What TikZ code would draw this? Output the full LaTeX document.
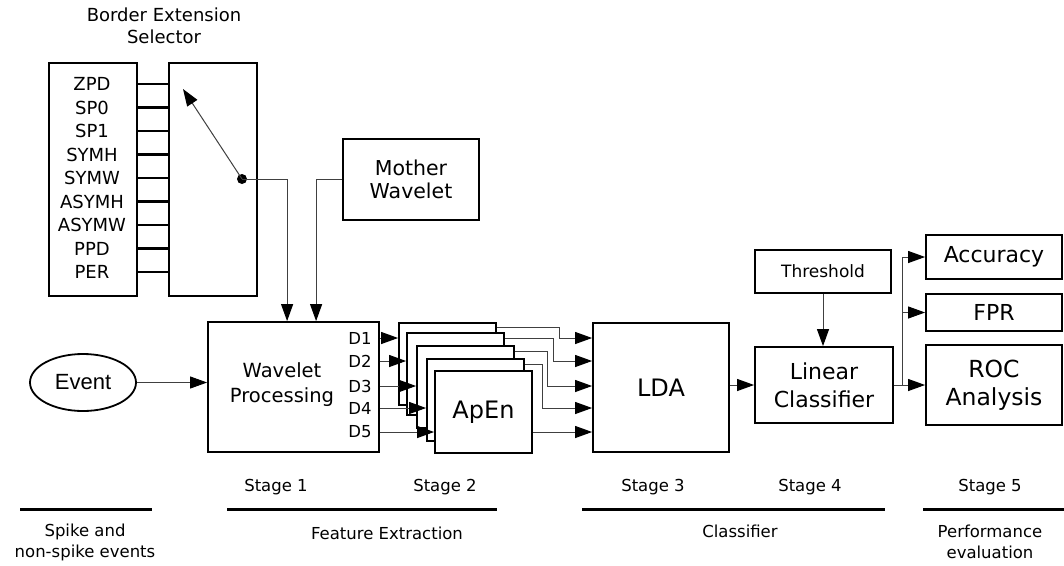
\documentclass[tikz,border=0pt]{standalone}
\usepackage{fontspec}
\setmainfont{DejaVu Sans}
\newfontfamily\evfont{Liberation Sans}
\usetikzlibrary{arrows.meta,shapes.geometric}
\begin{document}
\begin{tikzpicture}[x=1pt,y=-1pt,
  box/.style={draw=black,line width=1.8pt,fill=white,inner sep=0pt,align=center},
  conn/.style={draw=black!75,line width=1pt},
  arr/.style={conn,-{Triangle[length=17pt,width=12pt,color=black]}},
  txt/.style={inner sep=0pt,align=center},
  stageline/.style={draw=black,line width=3pt},
  fa/.style={font=\fontsize{16.5}{21}\selectfont},
  fb/.style={font=\fontsize{18}{22}\selectfont},
  fc/.style={font=\fontsize{22}{28}\selectfont}]
\useasboundingbox (0,0) rectangle (1064,565);

% Border extension selector
\node[txt,fb] (title) at (164,26) {Border Extension\\Selector};
\node[box,minimum width=88pt,minimum height=233pt] (lbox) at (93,179.5) {};
\node[box,minimum width=88pt,minimum height=233pt] (rbox) at (213,179.5) {};
\foreach \t [count=\i] in {ZPD,SP0,SP1,SYMH,SYMW,ASYMH,ASYMW,PPD,PER}{
  \node[txt,fb] (lab\i) at (92,{84+23.5*(\i-1)}) {\t};
  \draw[line width=2.2pt] (lbox.east |- lab\i) -- (rbox.west |- lab\i);
}
\node[circle,fill=black,inner sep=0pt,minimum size=10pt] (dot) at (242,179) {};
\coordinate (ptr) at (183,89);
\draw[arr] (dot.center) -- (ptr);

% Mother wavelet
\node[box,minimum width=136pt,minimum height=81pt,font=\fontsize{20.5}{23}\selectfont] (mw) at (411,179.5) {Mother\\Wavelet};

% Wavelet processing
\node[box,minimum width=171pt,minimum height=130pt] (wave) at (293.5,387) {};
\node[txt,font=\fontsize{19.5}{25}\selectfont] (wavetxt) at (282,384.5) {Wavelet\\Processing};
\node[txt,fa] (d1) at (360,338) {D1};
\node[txt,fa] (d2) at (360,361) {D2};
\node[txt,fa] (d3) at (360,386) {D3};
\node[txt,fa] (d4) at (360,408) {D4};
\node[txt,fa] (d5) at (360,432) {D5};

\draw[arr] (dot.center) -| ([xshift=80pt]wave.north west);
\draw[arr] (mw.west) -| ([xshift=109pt]wave.north west);

% Event
\node[draw,ellipse,line width=1.8pt,minimum width=106pt,minimum height=57pt,inner sep=0pt,
      font=\evfont\fontsize{22}{26}\selectfont] (ev) at (83,382.5) {Event};
\draw[arr] (ev.east) -- (ev.east -| wave.west);

% ApEn stack
\node[box,minimum width=97pt,minimum height=82pt] (ap1) at (447.5,364) {};
\node[box,minimum width=97pt,minimum height=82pt] (ap2) at (455.5,374) {};
\node[box,minimum width=97pt,minimum height=82pt] (ap3) at (465.5,387) {};
\node[box,minimum width=97pt,minimum height=82pt] (ap4) at (475.5,400) {};
\node[box,minimum width=97pt,minimum height=82pt,font=\fontsize{24}{28}\selectfont] (ap5) at (483.5,412) {ApEn};

\draw[arr] (wave.east |- d1) -- (ap1.west |- d1);
\draw[arr] (wave.east |- d2) -- (ap2.west |- d2);
\draw[arr] (wave.east |- d3) -- (ap3.west |- d3);
\draw[arr] (wave.east |- d4) -- (ap4.west |- d4);
\draw[arr] (wave.east |- d5) -- (ap5.west |- d5);

% LDA
\node[box,minimum width=136pt,minimum height=129pt,font=\fontsize{24}{28}\selectfont] (lda) at (661,387.5) {LDA};

\draw[arr] ([yshift=-5pt]ap1.north east) -- ++(63,0) |- (lda.west |- d1);
\draw[arr] ([yshift=-6pt]ap2.north east) -- ++(49,0) |- (lda.west |- d2);
\draw[arr] ([yshift=-6pt]ap3.north east) -- ++(33,0) |- (lda.west |- d3);
\draw[arr] ([yshift=-6pt]ap4.north east) -- ++(18,0) |- (lda.west |- d4);
\draw[arr] (ap5.east |- d5) -- (lda.west |- d5);

% Classifier
\node[box,minimum width=138pt,minimum height=76pt,fc] (lc) at (824,385) {Linear\\Classifier};
\node[box,minimum width=136pt,minimum height=43pt,font=\fontsize{17}{20}\selectfont] (thr) at (823,271.5) {Threshold};
\draw[arr] (lda.east |- lc.west) -- (lc.west);
\draw[arr] (thr.south) -- (thr.south |- lc.north);

% Performance
\node[box,minimum width=136pt,minimum height=44pt,fc] (acc) at (994,257) {Accuracy};
\node[box,minimum width=136pt,minimum height=37pt,fc] (fpr) at (994,312.5) {FPR};
\node[box,minimum width=136pt,minimum height=80pt,font=\fontsize{23.5}{28}\selectfont] (roc) at (994,385) {ROC\\Analysis};
\coordinate (br) at ([xshift=9pt]lc.east);
\draw[conn] (lc.east) -- (br);
\draw[arr] (br) -- (roc.west);
\draw[arr] (br) |- (acc.west);
\draw[arr] (br |- fpr.west) -- (fpr.west);

% Stage labels
\node[txt,fa] (s1) at (276,487) {Stage 1};
\node[txt,fa] (s2) at (445,487) {Stage 2};
\node[txt,fa] (s3) at (653,487) {Stage 3};
\node[txt,fa] (s4) at (810,487) {Stage 4};
\node[txt,fa] (s5) at (990,487) {Stage 5};
\draw[stageline] (20,509) -- (152,509);
\draw[stageline] (227,509) -- (497,509);
\draw[stageline] (582,509) -- (885,509);
\draw[stageline] (923,509) -- (1064,509);
\node[txt,fa] (g1) at (85,542) {Spike and\\non-spike events};
\node[txt,fa] (g2) at (387,533) {Feature Extraction};
\node[txt,fa] (g3) at (740,531) {Classifier};
\node[txt,fa] (g4) at (990,542) {Performance\\evaluation};
\end{tikzpicture}
\end{document}
